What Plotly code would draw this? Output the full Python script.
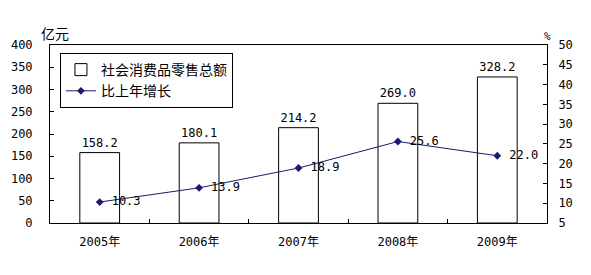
import plotly.graph_objects as go

years = ["2005年", "2006年", "2007年", "2008年", "2009年"]
sales = [158.2, 180.1, 214.2, 269.0, 328.2]
growth = [10.3, 13.9, 18.9, 25.6, 22.0]
left_ticks = [0, 50, 100, 150, 200, 250, 300, 350, 400]
right_ticks = [5, 10, 15, 20, 25, 30, 35, 40, 45, 50]

FONT = "DejaVu Sans Mono, Noto Sans CJK SC"
CJK = "Noto Sans CJK SC"

fig = go.Figure()
fig.add_trace(go.Bar(
    x=years, y=sales, name="社会消费品零售总额",
    marker=dict(color="white", line=dict(color="black", width=1)),
    width=0.4,
    text=[f"{v:.1f}" for v in sales], textposition="outside",
    textfont=dict(size=12, color="black", family=FONT),
    cliponaxis=False,
))
fig.add_trace(go.Scatter(
    x=years, y=growth, name="比上年增长", yaxis="y2",
    mode="lines+markers+text",
    line=dict(color="#1a1a6e", width=1),
    marker=dict(symbol="diamond", size=6, color="#1a1a6e"),
    text=[f" {v:.1f}" for v in growth], textposition="middle right",
    textfont=dict(size=12, color="black", family=FONT),
    cliponaxis=False,
))

fig.update_layout(
    width=591, height=275,
    margin=dict(l=50, r=44, t=45, b=52),
    paper_bgcolor="white", plot_bgcolor="white",
    font=dict(family=FONT, size=12, color="black"),
    xaxis=dict(
        type="category", showline=True, linecolor="black", linewidth=1, mirror=True,
        ticks="inside", tickson="boundaries", ticklen=4, tickcolor="black",
        showgrid=False, tickfont=dict(size=12), ticklabelstandoff=8,
    ),
    yaxis=dict(
        range=[0, 400], tickvals=left_ticks, showline=True, linecolor="black",
        linewidth=1, ticks="inside", ticklen=4, tickcolor="black",
        showgrid=False, zeroline=False, ticklabelstandoff=14,
        tickfont=dict(size=12),
    ),
    yaxis2=dict(
        range=[5, 50], tickvals=right_ticks, overlaying="y", side="right",
        showline=True, linecolor="black", linewidth=1, ticks="inside", ticklen=4,
        tickcolor="black", showgrid=False, zeroline=False, ticklabelstandoff=8,
        tickfont=dict(size=12),
    ),
    legend=dict(
        x=0.02, y=0.955, xanchor="left", yanchor="top",
        bgcolor="white", bordercolor="black", borderwidth=1,
        font=dict(size=14, family=CJK), tracegroupgap=0,
    ),
    showlegend=True,
    annotations=[
        dict(text="亿元", xref="paper", yref="paper", x=-0.022, y=1.0,
             xanchor="left", yanchor="bottom", showarrow=False,
             font=dict(size=14, family=CJK)),
        dict(text="%", xref="paper", yref="paper", x=0.99, y=1.0,
             xanchor="left", yanchor="bottom", showarrow=False, font=dict(size=11)),
    ],
)

fig.write_html("out.html")
